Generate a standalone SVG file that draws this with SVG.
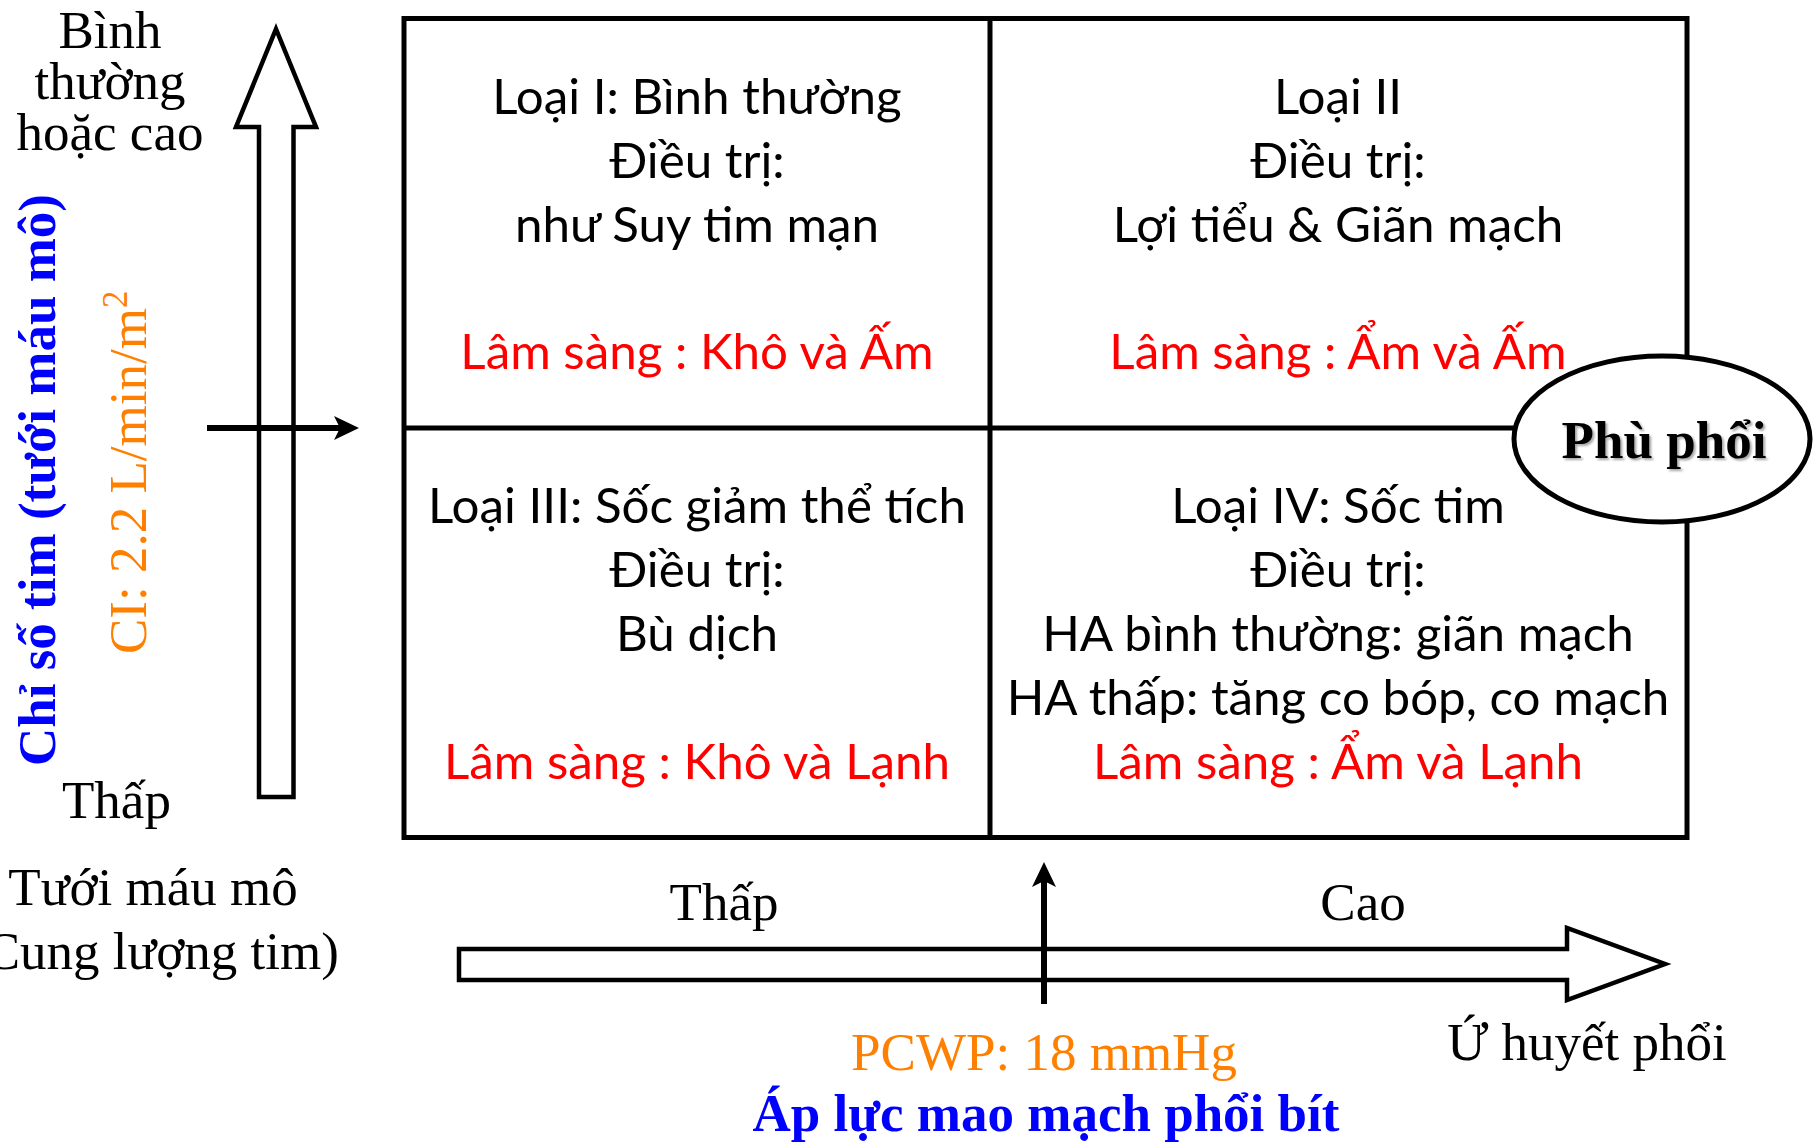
<svg xmlns="http://www.w3.org/2000/svg" width="1814" height="1143" viewBox="0 0 1814 1143">
  <style>
    .serif { font-family: "Liberation Serif", "Times New Roman", serif; font-size: 53px; fill: #000; }
    .bold { font-weight: bold; }
    .blue { fill: #0000FF; }
    .orange { fill: #FF8000; }
    .q { font-family: Lato, "Noto Sans", sans-serif; font-size: 49.3px; fill: #000; text-anchor: middle; }
    .red { fill: #FF0000; }
    .mid { text-anchor: middle; }
    .frame { fill: none; stroke: #000; stroke-width: 5; }
    .hollow { fill: #fff; stroke: #000; stroke-width: 4.5; stroke-linejoin: miter; }
    .pointer { fill: none; stroke: #000; stroke-width: 6; marker-end: url(#head); }
  </style>
  <defs>
    <marker id="head" markerUnits="userSpaceOnUse" markerWidth="26" markerHeight="26" refX="6" refY="12" orient="auto">
      <path d="M0,0 L25,12 L0,24 L6,12 Z" fill="#000"/>
    </marker>
    <filter id="soft" x="-10%" y="-30%" width="130%" height="160%">
      <feDropShadow dx="2" dy="2" stdDeviation="1.2" flood-color="#000" flood-opacity="0.35"/>
    </filter>
  </defs>

  <rect width="1814" height="1143" fill="#fff"/>

  <!-- left axis labels -->
  <g id="y-axis-labels">
    <text class="serif mid" x="110" y="48">Bình</text>
    <text class="serif mid" x="110" y="99">thường</text>
    <text class="serif mid" x="110" y="150">hoặc cao</text>
    <text class="serif" x="62" y="818">Thấp</text>
    <text class="serif mid" x="153" y="905">Tưới máu mô</text>
    <text class="serif mid" x="153" y="969">(Cung lượng tim)</text>
    <text class="serif bold blue mid" transform="translate(55,480) rotate(-90)">Chỉ số tim (tưới máu mô)</text>
    <text class="serif orange" transform="translate(146,654) rotate(-90)">CI: 2.2 L/min/m<tspan font-size="35" dy="-19">2</tspan></text>
  </g>

  <!-- bottom axis labels -->
  <g id="x-axis-labels">
    <text class="serif mid" x="724" y="920">Thấp</text>
    <text class="serif mid" x="1363" y="920">Cao</text>
    <text class="serif mid" x="1587" y="1060">Ứ huyết phổi</text>
    <text class="serif orange mid" x="1044" y="1070">PCWP: 18 mmHg</text>
    <text class="serif bold blue mid" x="1046" y="1131">Áp lực mao mạch phổi bít</text>
  </g>

  <!-- quadrant grid -->
  <g id="grid">
    <rect class="frame" x="404" y="18.5" width="1283" height="819"/>
    <line class="frame" x1="990" y1="18.5" x2="990" y2="837.5"/>
    <line class="frame" x1="404" y1="428" x2="1687" y2="428"/>
  </g>

  <g id="type-1">
    <text class="q" x="697" y="114">Loại I: Bình thường</text>
    <text class="q" x="697" y="178">Điều trị:</text>
    <text class="q" x="697" y="242">như Suy tim mạn</text>
    <text class="q red" x="697" y="369">Lâm sàng : Khô và Ấm</text>
  </g>
  <g id="type-2">
    <text class="q" x="1338" y="114">Loại II</text>
    <text class="q" x="1338" y="178">Điều trị:</text>
    <text class="q" x="1338" y="242">Lợi tiểu &amp; Giãn mạch</text>
    <text class="q red" x="1338" y="369">Lâm sàng : Ẩm và Ấm</text>
  </g>
  <g id="type-3">
    <text class="q" x="697" y="523">Loại III: Sốc giảm thể tích</text>
    <text class="q" x="697" y="587">Điều trị:</text>
    <text class="q" x="697" y="651">Bù dịch</text>
    <text class="q red" x="697" y="779">Lâm sàng : Khô và Lạnh</text>
  </g>
  <g id="type-4">
    <text class="q" x="1338" y="523">Loại IV: Sốc tim</text>
    <text class="q" x="1338" y="587">Điều trị:</text>
    <text class="q" x="1338" y="651">HA bình thường: giãn mạch</text>
    <text class="q" x="1338" y="715">HA thấp: tăng co bóp, co mạch</text>
    <text class="q red" x="1338" y="779">Lâm sàng : Ẩm và Lạnh</text>
  </g>

  <!-- pulmonary oedema badge -->
  <g id="phu-phoi">
    <ellipse cx="1662" cy="439" rx="148" ry="83" fill="#fff" stroke="#000" stroke-width="5"/>
    <text class="serif bold mid" x="1664" y="458" filter="url(#soft)">Phù phổi</text>
  </g>

  <!-- axes and threshold pointers -->
  <g id="connectors">
    <path id="axis-ci" class="hollow" d="M276,29 L316,127 L293.5,127 L293.5,797 L259,797 L259,127 L236,127 Z"/>
    <path id="axis-pcwp" class="hollow" d="M459,949 L1567,949 L1567,928 L1665,964 L1567,1000 L1567,980 L459,980 Z"/>
    <path id="mark-ci" class="pointer" d="M207,428 L340,428"/>
    <path id="mark-pcwp" class="pointer" d="M1044,1004 L1044,881"/>
  </g>
</svg>
